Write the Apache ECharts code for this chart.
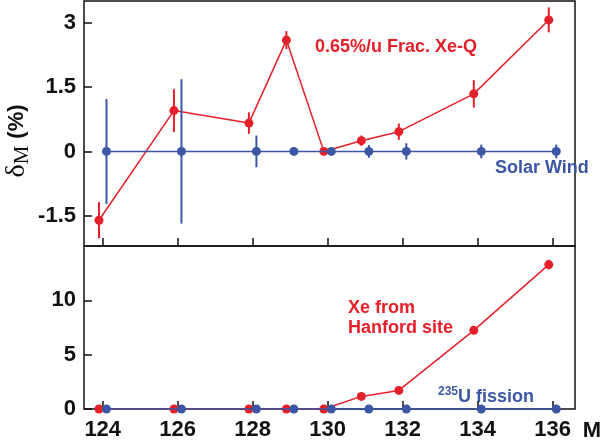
<!DOCTYPE html>
<html><head><meta charset="utf-8">
<script src="https://cdn.jsdelivr.net/npm/echarts@6/dist/echarts.min.js"></script>
<style>html,body{margin:0;padding:0;background:#fff}#c{width:600px;height:442px}</style>
</head><body><div id="c"></div>
<script>
// ---- data ----
const masses = [124, 126, 128, 129, 130, 131, 132, 134, 136];
const xTicks = [124, 126, 128, 130, 132, 134, 136];
const topYTicks = [-1.5, 0, 1.5, 3];
const botYTicks = [0, 5, 10];
// top panel: fractionated Xe-Q vs solar wind (delta_M, %)
const xeqVals = [-1.60, 0.95, 0.66, 2.59, 0, 0.25, 0.46, 1.34, 3.06];
const xeqErr  = [0.42, 0.50, 0.25, 0.21, 0, 0.12, 0.19, 0.32, 0.29];
const swVals  = [0, 0, 0, 0, 0, 0, 0, 0, 0];
const swErr   = [1.22, 1.68, 0.37, 0, 0, 0.15, 0.19, 0.16, 0.16];
// bottom panel: Hanford Xe vs 235U fission
const hanVals = [0, 0, 0, 0, 0, 1.16, 1.71, 7.24, 13.29];
const hanErr  = [0, 0, 0, 0, 0, 0, 0, 0, 0.45];
const fisVals = [0, 0, 0, 0, 0, 0, 0, 0, 0];
const fisErr  = [0, 0, 0, 0, 0, 0, 0, 0, 0];
const redShift = -0.1, blueShift = 0.1; // horizontal offsets (mass units) used in the figure

const RED = '#e5202a', BLUE = '#3a56a5';
const pts = (vals, errs, sh) => masses.map((m, i) => [m + sh, vals[i], errs[i]]);

const chart = echarts.init(document.getElementById('c'));
const tickFont = {fontFamily: 'Liberation Sans', fontWeight: 'bold', fontSize: 22, color: '#111'};

function xAxis(gi, showLabels) {
  return {
    type: 'value', gridIndex: gi, min: 123.5, max: 136.6, position: 'bottom',
    axisLine: {show: false, onZero: false}, splitLine: {show: false},
    axisTick: {inside: true, length: 8, lineStyle: {color: '#111', width: 1.5}, customValues: xTicks},
    axisLabel: Object.assign({show: showLabels, margin: 10, customValues: xTicks}, tickFont)
  };
}
function yAxis(gi, min, max, ticks) {
  return {
    type: 'value', gridIndex: gi, min: min, max: max,
    axisLine: {show: false, onZero: false}, splitLine: {show: false},
    axisTick: {inside: true, length: 8, lineStyle: {color: '#111', width: 1.5}, customValues: ticks},
    axisLabel: Object.assign({margin: 8, customValues: ticks}, tickFont)
  };
}
function lineSeries(data, color, xi) {
  return {
    type: 'line', xAxisIndex: xi, yAxisIndex: xi, data: data, clip: false,
    symbol: 'circle', symbolSize: 9, lineStyle: {color: color, width: 1.5},
    itemStyle: {color: color}, animation: false, z: color === BLUE ? 4 : 3
  };
}
function errSeries(data, color, xi) {
  return {
    type: 'custom', xAxisIndex: xi, yAxisIndex: xi, data: data, animation: false,
    z: color === BLUE ? 4 : 3,
    renderItem: function (params, api) {
      const x = api.value(0), y = api.value(1), e = api.value(2);
      if (!e) return null;
      const a = api.coord([x, y - e]), b = api.coord([x, y + e]);
      return {type: 'line', shape: {x1: a[0], y1: a[1], x2: b[0], y2: b[1]},
              style: {stroke: color, lineWidth: 2}};
    }
  };
}

const annFont = {fontFamily: 'Liberation Sans', fontWeight: 'bold', fontSize: 18};
chart.setOption({
  animation: false,
  grid: [
    {left: 84, right: 25, top: 1, height: 245, show: true, borderColor: '#111', borderWidth: 1.5, backgroundColor: 'transparent'},
    {left: 84, right: 25, top: 246, height: 163, show: true, borderColor: '#111', borderWidth: 1.5, backgroundColor: 'transparent'}
  ],
  xAxis: [xAxis(0, false), xAxis(1, true)],
  yAxis: [yAxis(0, -2.2, 3.5, topYTicks), yAxis(1, 0, 15, botYTicks)],
  series: [
    lineSeries(pts(xeqVals, xeqErr, redShift), RED, 0),
    errSeries(pts(xeqVals, xeqErr, redShift), RED, 0),
    lineSeries(pts(swVals, swErr, blueShift), BLUE, 0),
    errSeries(pts(swVals, swErr, blueShift), BLUE, 0),
    lineSeries(pts(hanVals, hanErr, redShift), RED, 1),
    errSeries(pts(hanVals, hanErr, redShift), RED, 1),
    lineSeries(pts(fisVals, fisErr, blueShift), BLUE, 1),
    errSeries(pts(fisVals, fisErr, blueShift), BLUE, 1)
  ],
  graphic: [
    {type: 'text', x: 315, y: 47, style: Object.assign({text: '0.65%/u Frac. Xe-Q', fill: RED, verticalAlign: 'middle'}, annFont)},
    {type: 'text', x: 495, y: 168, style: Object.assign({text: 'Solar Wind', fill: BLUE, verticalAlign: 'middle'}, annFont)},
    {type: 'text', x: 348, y: 308, style: Object.assign({text: 'Xe from', fill: RED, verticalAlign: 'middle'}, annFont)},
    {type: 'text', x: 348, y: 328, style: Object.assign({text: 'Hanford site', fill: RED, verticalAlign: 'middle'}, annFont)},
    {type: 'text', x: 438, y: 397, style: {
      text: '{s|235}{b|U fission}', verticalAlign: 'middle',
      rich: {
        s: {fontFamily: 'Liberation Sans', fontWeight: 'bold', fontSize: 12, fill: BLUE, verticalAlign: 'top', padding: [0, 0, 10, 0]},
        b: Object.assign({fill: BLUE}, annFont)
      }}},
    {type: 'text', x: 592, y: 431, style: {text: 'M', fill: '#111', align: 'center', verticalAlign: 'middle',
      fontFamily: 'Liberation Sans', fontWeight: 'bold', fontSize: 22}},
    {type: 'text', x: 17, y: 141, rotation: Math.PI / 2, style: {
      text: '{d|δ}{m|M}{g| }{p|(%)}', align: 'center', verticalAlign: 'middle',
      rich: {
        d: {fontFamily: 'Liberation Serif', fontSize: 28, fill: '#111'},
        m: {fontFamily: 'Liberation Serif', fontSize: 21, fill: '#111', padding: [10, 0, 0, 0]},
        g: {width: 7, fontSize: 10},
        p: {fontFamily: 'Liberation Sans', fontWeight: 'bold', fontSize: 22, fill: '#111'}
      }}}
  ]
});
</script></body></html>
